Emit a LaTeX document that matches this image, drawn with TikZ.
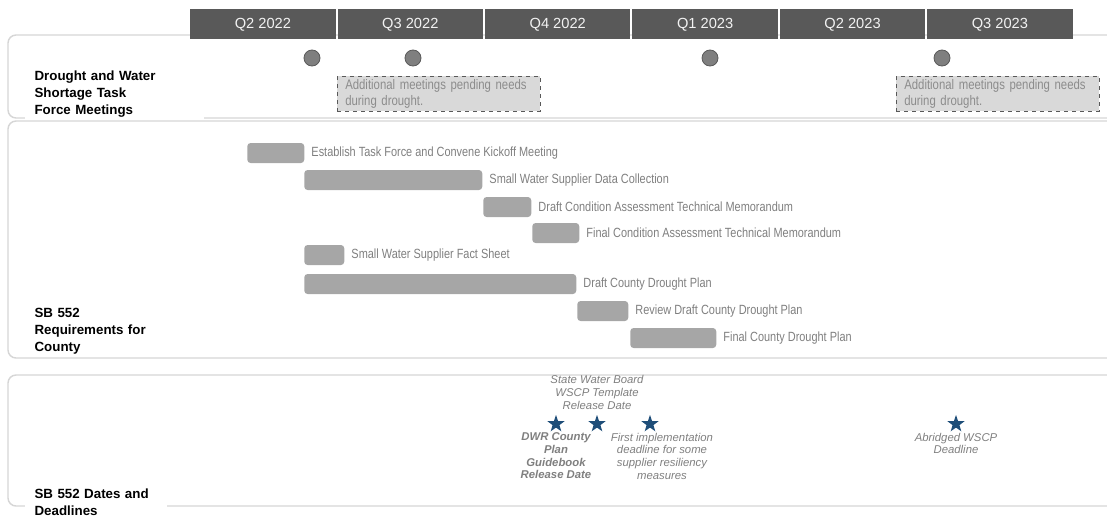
\documentclass[tikz,border=0pt]{standalone}
\usepackage{fontspec}
\setmainfont{Liberation Sans}
\newfontfamily\narrowfont[FakeStretch=0.82]{Liberation Sans}
\usetikzlibrary{positioning,shapes.geometric}
\definecolor{hdrgray}{HTML}{595959}
\definecolor{bargray}{HTML}{A6A6A6}
\definecolor{lblgray}{HTML}{7F7F7F}
\definecolor{boxgray}{HTML}{D9D9D9}
\definecolor{starblue}{HTML}{1F4E79}
\tikzset{
  lane/.style   ={draw=black!16, line width=1.1pt, rounded corners=6pt},
  lanelbl/.style={fill=white, font=\bfseries\fontsize{10}{13}\selectfont, align=left, inner xsep=7pt, inner ysep=2pt, anchor=base west},
  qtr/.style    ={fill=hdrgray, text=black!5, font=\fontsize{11}{13}\selectfont, minimum width=109pt, minimum height=22.5pt, anchor=north west, inner sep=0pt},
  meet/.style   ={circle, draw=hdrgray, fill=lblgray, minimum size=12pt, inner sep=0pt, line width=0.6pt},
  pend/.style   ={draw=hdrgray, dashed, fill=boxgray, text=black!45, font=\narrowfont\fontsize{10.4}{11.6}\selectfont, align=left, text width=140pt, inner xsep=6pt, inner ysep=2.5pt, minimum height=24pt, anchor=north west},
  bar/.style    ={fill=bargray, rounded corners=2.5pt, minimum height=15pt, inner sep=0pt},
  barlbl/.style ={text=lblgray, font=\narrowfont\fontsize{10}{11}\selectfont, inner sep=0pt},
  mile/.style   ={star, star points=5, star point ratio=2.5, fill=starblue, minimum size=13.5pt, inner sep=0pt},
  milelbl/.style={text=lblgray, font=\itshape\fontsize{8.5}{9.5}\selectfont, align=center, inner sep=1pt},
}

\begin{document}
\begin{tikzpicture}[x=0.75pt, y=-0.75pt, node distance=4pt]
  \clip (0,0) rectangle (1107,518);
  % swim lanes
  \draw[lane] (8,35) rectangle (1140,118);
  \draw[lane] (8,121) rectangle (1140,358);
  \draw[lane] (8,375) rectangle (1140,506);
  \node[lanelbl, text width=120pt] (lane1) at (25,80) {Drought and Water\\Shortage Task\\Force Meetings};
  \node[lanelbl, text width=112pt] (lane2) at (25,317) {SB 552\\Requirements for\\County};
  \node[lanelbl, text width=92pt] (lane3) at (25,498) {SB 552 Dates and\\Deadlines};

  % quarters
  \foreach \q [count=\i from 0] in {Q2 2022,Q3 2022,Q4 2022,Q1 2023,Q2 2023,Q3 2023}
    \node[qtr] (q\i) at ({190+147.4*\i},9) {\q};

  % task force meetings
  \foreach \x [count=\i] in {312,413,710,942}
    \node[meet] (m\i) at (\x,58) {};
  \node[pend] (p1) at (337,76) {Additional meetings pending needs\\during drought.};
  \node[pend] (p2) at (896,76) {Additional meetings pending needs\\during drought.};

  % requirements (gantt bars)
  \foreach \a/\b/\y/\t [count=\i] in {
      247/304/153/Establish Task Force and Convene Kickoff Meeting,
      304/482/180/Small Water Supplier Data Collection,
      483/531/207/Draft Condition Assessment Technical Memorandum,
      532/579/233/Final Condition Assessment Technical Memorandum,
      304/344/255/Small Water Supplier Fact Sheet,
      304/576/284/Draft County Drought Plan,
      577/628/311/Review Draft County Drought Plan,
      630/716/338/Final County Drought Plan}{
    \node[bar, minimum width={(\b-\a)*0.75pt}, anchor=west] (b\i) at (\a,\y) {};
    \node[barlbl, right=5pt of b\i] (t\i) {\t};
  }

  % dates and deadlines
  \node[mile] (s1) at (556,424) {};
  \node[mile] (s2) at (597,424) {};
  \node[mile] (s3) at (650,424) {};
  \node[mile] (s4) at (956,424) {};
  \node[milelbl, above=2.5pt of s2] (l2) {State Water Board\\WSCP Template\\Release Date};
  \node[milelbl, font=\bfseries\itshape\fontsize{8.5}{9.5}\selectfont, below=2.5pt of s1] (l1) {DWR County\\Plan\\Guidebook\\Release Date};
  \node[milelbl, below=2.5pt of s3, xshift=9pt] (l3) {First implementation\\deadline for some\\supplier resiliency\\measures};
  \node[milelbl, below=2.5pt of s4] (l4) {Abridged WSCP\\Deadline};
\end{tikzpicture}
\end{document}
